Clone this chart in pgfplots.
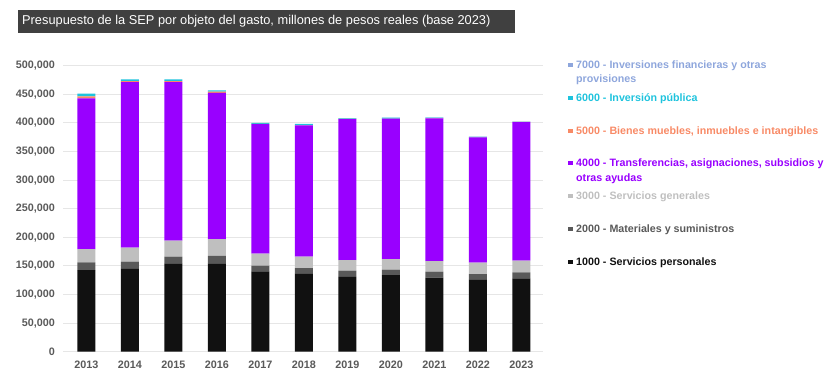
\documentclass[border=0pt]{standalone}
\usepackage{pgfplots}
\pgfplotsset{compat=1.18}
\usepackage{fontspec}
\setmainfont{Liberation Sans}
\definecolor{c1}{HTML}{111111}
\definecolor{c2}{HTML}{595959}
\definecolor{c3}{HTML}{BFBFBF}
\definecolor{c4}{HTML}{9900FF}
\definecolor{c5}{HTML}{F88A66}
\definecolor{c6}{HTML}{1EC3DD}
\definecolor{c7}{HTML}{8EA6DC}
\definecolor{titlebg}{HTML}{404040}
\definecolor{gridgray}{HTML}{E6E6E6}
\definecolor{ticktext}{HTML}{595959}
\pgfplotstableread{
x s1000 s2000 s3000 s4000 s5000 s6000 s7000
0 142800 13500 23200 263500 3400 4600 0
1 145000 12300 24500 289600 1600 3000 0
2 154500 11500 28000 277400 1600 3000 0
3 154500 12800 29700 255700 1800 2500 0
4 140500 9800 21000 226700 300 1700 0
5 137000 9300 19700 229800 300 2400 0
6 131000 10600 18700 246500 300 1000 200
7 134000 9300 18700 245300 300 1500 200
8 129300 10500 18700 249500 300 1000 500
9 126500 9300 19800 219100 200 600 300
10 128300 10500 20200 242500 200 300 300
}\datatable
\begin{document}
\begin{tikzpicture}
\useasboundingbox (0pt,0pt) rectangle (828pt,371pt);
\fill[titlebg] (18pt,338pt) rectangle (515pt,361pt);
\node[anchor=west, text=white, font=\fontsize{12.8}{14}\selectfont, inner sep=0] at (22pt,349.5pt) {Presupuesto de la SEP por objeto del gasto, millones de pesos reales (base 2023)};
\begin{axis}[
  at={(63pt,19.3pt)}, anchor=south west,
  scale only axis, width=480pt, height=286pt,
  ybar stacked, bar width=18pt,
  xmin=-0.54, xmax=10.5, ymin=0, ymax=500000,
  ytick={0,50000,...,500000},
  xtick=data,
  xticklabels={2013,2014,2015,2016,2017,2018,2019,2020,2021,2022,2023},
  axis line style={draw=none},
  major tick length=0pt,
  ymajorgrids, grid style={gridgray, line width=0.8pt},
  tick label style={font=\bfseries\fontsize{10.8}{12}\selectfont, text=ticktext},
  /pgf/number format/assume math mode=true,
  yticklabel style={/pgf/number format/.cd, fixed, 1000 sep={,}, /tikz/.cd, xshift=-4.5pt},
  xticklabel style={yshift=-6pt},
  scaled y ticks=false,
  clip=false,
]
\addplot[fill=c1, draw=none] table[x=x, y=s1000] {\datatable};
\addplot[fill=c2, draw=none] table[x=x, y=s2000] {\datatable};
\addplot[fill=c3, draw=none] table[x=x, y=s3000] {\datatable};
\addplot[fill=c4, draw=none] table[x=x, y=s4000] {\datatable};
\addplot[fill=c5, draw=none] table[x=x, y=s5000] {\datatable};
\addplot[fill=c6, draw=none] table[x=x, y=s6000] {\datatable};
\addplot[fill=c7, draw=none] table[x=x, y=s7000] {\datatable};
\end{axis}
\tikzset{lg/.style={anchor=west, inner sep=0, text height=7.7pt, text depth=0pt, font=\bfseries\fontsize{10.7}{12}\selectfont}}
\fill[c7] (568pt,303.8pt) rectangle ++(4.5pt,4.5pt);
\node[lg, text=c7] at (576pt,306pt) {7000 - Inversiones financieras y otras};
\node[lg, text=c7] at (576pt,292pt) {provisiones};
\fill[c6] (568pt,270.8pt) rectangle ++(4.5pt,4.5pt);
\node[lg, text=c6] at (576pt,273pt) {6000 - Inversión pública};
\fill[c5] (568pt,237.8pt) rectangle ++(4.5pt,4.5pt);
\node[lg, text=c5] at (576pt,240pt) {5000 - Bienes muebles, inmuebles e intangibles};
\fill[c4] (568pt,205.8pt) rectangle ++(4.5pt,4.5pt);
\node[lg, text=c4] at (576pt,208pt) {4000 - Transferencias, asignaciones, subsidios y};
\node[lg, text=c4] at (576pt,193pt) {otras ayudas};
\fill[c3] (568pt,172.8pt) rectangle ++(4.5pt,4.5pt);
\node[lg, text=c3] at (576pt,175pt) {3000 - Servicios generales};
\fill[c2] (568pt,139.8pt) rectangle ++(4.5pt,4.5pt);
\node[lg, text=c2] at (576pt,142pt) {2000 - Materiales y suministros};
\fill[c1] (568pt,106.8pt) rectangle ++(4.5pt,4.5pt);
\node[lg, text=c1] at (576pt,109pt) {1000 - Servicios personales};
\end{tikzpicture}
\end{document}
